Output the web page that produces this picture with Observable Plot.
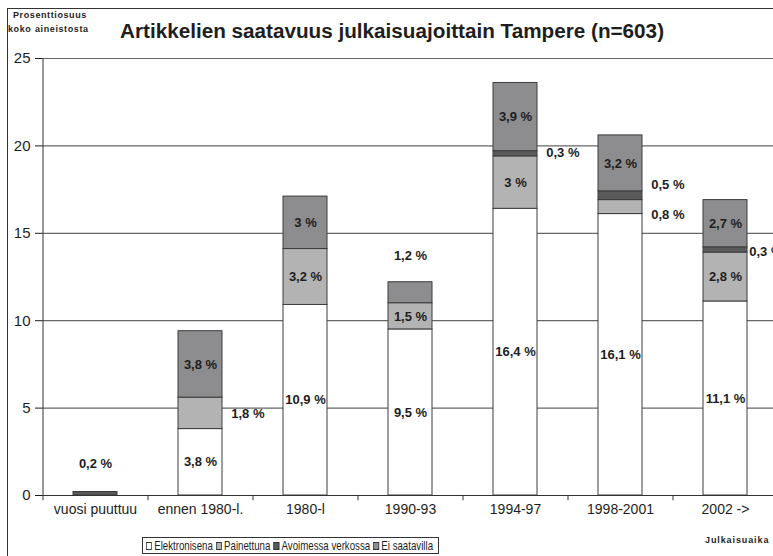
<!DOCTYPE html>
<html><head><meta charset="utf-8">
<script src="https://cdn.jsdelivr.net/npm/d3@7"></script>
<script src="https://cdn.jsdelivr.net/npm/@observablehq/plot@0.6"></script>
<style>
html,body{margin:0;padding:0;background:#fff;overflow:hidden;}
#wrap{position:relative;width:773px;height:556px;overflow:hidden;font-family:"Liberation Sans",Arial,sans-serif;color:#1e1e1e;background:#fff;}
#frame{position:absolute;left:7px;top:8px;width:900px;height:700px;border-left:1px solid #333;border-top:1px solid #333;}
#chart{position:absolute;left:0;top:0;}
#title{position:absolute;left:120px;top:19px;font-size:20.7px;font-weight:bold;white-space:nowrap;}
.ylab{position:absolute;font-size:9px;font-weight:bold;letter-spacing:0.6px;white-space:nowrap;}
#legend{position:absolute;left:142px;top:537px;width:297px;height:17px;border:1px solid #333;box-sizing:border-box;overflow:hidden;}
#legend .inner{position:absolute;left:3px;top:0;height:15px;font-family:"Liberation Sans Narrow","Arial Narrow","Liberation Sans",Arial,sans-serif;font-size:13px;line-height:15px;white-space:nowrap;transform-origin:0 50%;display:inline-flex;align-items:center;}
#legend .sw{display:inline-block;width:6px;height:6px;border:1px solid #333;margin-right:3px;}
#legend .it{margin-right:4px;display:inline-flex;align-items:center;}
#xname{position:absolute;left:705px;top:535px;font-size:9px;font-weight:bold;letter-spacing:0.9px;white-space:nowrap;}
</style></head>
<body>
<div id="wrap">
  <div id="frame"></div>
  <div id="chart"></div>
  <div class="ylab" style="left:13px;top:10px;">Prosenttiosuus</div>
  <div class="ylab" style="left:8px;top:24px;">koko</div>
  <div class="ylab" style="left:35px;top:24px;">aineistosta</div>
  <div id="title">Artikkelien saatavuus julkaisuajoittain Tampere (n=603)</div>
  <div id="legend"><span class="inner"></span></div>
  <div id="xname">Julkaisuaika</div>
</div>
<script>
// ---- data ----
const categories = ["vuosi puuttuu", "ennen 1980-l.", "1980-l", "1990-93", "1994-97", "1998-2001", "2002 ->"];
const series = ["Elektronisena", "Painettuna", "Avoimessa verkossa", "Ei saatavilla"];
const elektronisena = [0, 3.8, 10.9, 9.5, 16.4, 16.1, 11.1];
const painettuna = [0, 1.8, 3.2, 1.5, 3, 0.8, 2.8];
const avoimessaVerkossa = [0.2, 0, 0, 0, 0.3, 0.5, 0.3];
const eiSaatavilla = [0, 3.8, 3, 1.2, 3.9, 3.2, 2.7];
const yTicks = [0, 5, 10, 15, 20, 25];
const seriesColors = ["#ffffff", "#b3b3b3", "#5a5a5a", "#8d8d8f"];

const valuesBySeries = [elektronisena, painettuna, avoimessaVerkossa, eiSaatavilla];

// ---- layout ----
const W = 773, H = 556, mL = 42, mR = -4, mT = 58, mB = 61;
const step = (W - mL - mR) / categories.length;
const bw = 43.5;
const padInner = 1 - bw / step;

// label placement for small segments
const labelLayout = {
  "vuosi puuttuu|Avoimessa verkossa": {place: "above", dy: -28},
  "1990-93|Ei saatavilla": {place: "above", dy: -26},
  "ennen 1980-l.|Painettuna": {place: "right", gap: 9, dy: 0},
  "1994-97|Avoimessa verkossa": {place: "right", gap: 9, dy: -1},
  "1998-2001|Avoimessa verkossa": {place: "right", gap: 9, dy: -11},
  "1998-2001|Painettuna": {place: "right", gap: 9, dy: 8},
  "2002 ->|Avoimessa verkossa": {place: "right", gap: 2, dy: 2}
};

const bars = [];
const labels = [];
categories.forEach((c, i) => {
  let cum = 0;
  series.forEach((s, j) => {
    const v = valuesBySeries[j][i];
    if (v > 0) {
      bars.push({cat: c, series: s, value: v});
      labels.push({cat: c, series: s, value: v, mid: cum + v / 2, top: cum + v,
        text: String(v).replace(".", ",") + " %"});
    }
    cum += v;
  });
});

const labelMarks = labels.map(l => {
  const lay = labelLayout[l.cat + "|" + l.series] || {place: "in"};
  const base = {x: "cat", text: "text", fontWeight: "bold", fontSize: 13, fill: "#1e1e1e"};
  if (lay.place === "above") return Plot.text([l], {...base, y: "top", dy: lay.dy});
  if (lay.place === "right") return Plot.text([l], {...base, y: "mid", textAnchor: "start", dx: bw / 2 + lay.gap, dy: lay.dy});
  return Plot.text([l], {...base, y: "mid"});
});

const chart = Plot.plot({
  width: W, height: H,
  marginLeft: mL, marginRight: mR, marginTop: mT, marginBottom: mB,
  style: {fontFamily: "Liberation Sans, Arial, sans-serif", fontSize: "13px", color: "#1e1e1e", background: "transparent", overflow: "hidden"},
  x: {domain: categories, paddingInner: padInner, paddingOuter: padInner / 2},
  y: {domain: [0, 25]},
  color: {domain: series, range: seriesColors},
  marks: [
    Plot.ruleY(yTicks.filter(d => d > 0), {stroke: "#666", strokeWidth: 1.2}),
    Plot.barY(bars, {x: "cat", y: "value", fill: "series", stroke: "#3c3c3c", strokeWidth: 1}),
    Plot.ruleY([0], {stroke: "#333"}),
    Plot.ruleX([categories[0]], {x: d => d, dx: -step / 2, y1: 0, y2: 25, stroke: "#333"}),
    Plot.ruleX(categories, {x: d => d, dx: -step / 2, y1: 0, y2: -0.3, stroke: "#333"}),
    Plot.ruleX([categories[categories.length - 1]], {x: d => d, dx: step / 2, y1: 0, y2: -0.3, stroke: "#333"}),
    Plot.axisY({ticks: yTicks, tickSize: 7, tickPadding: 5, fontSize: 15, label: null}),
    Plot.axisX({tickSize: 0, tickPadding: 9, fontSize: 14, label: null}),
    ...labelMarks
  ]
});
document.getElementById("chart").appendChild(chart);

// legend
const inner = document.querySelector("#legend .inner");
series.forEach((s, j) => {
  const it = document.createElement("span");
  it.className = "it";
  it.innerHTML = `<span class="sw" style="background:${seriesColors[j]}"></span>${s}`;
  inner.appendChild(it);
});
const avail = 297 - 2 - 5;
const natural = inner.getBoundingClientRect().width;
if (natural > avail) inner.style.transform = `scaleX(${avail / natural})`;
</script>
</body></html>
